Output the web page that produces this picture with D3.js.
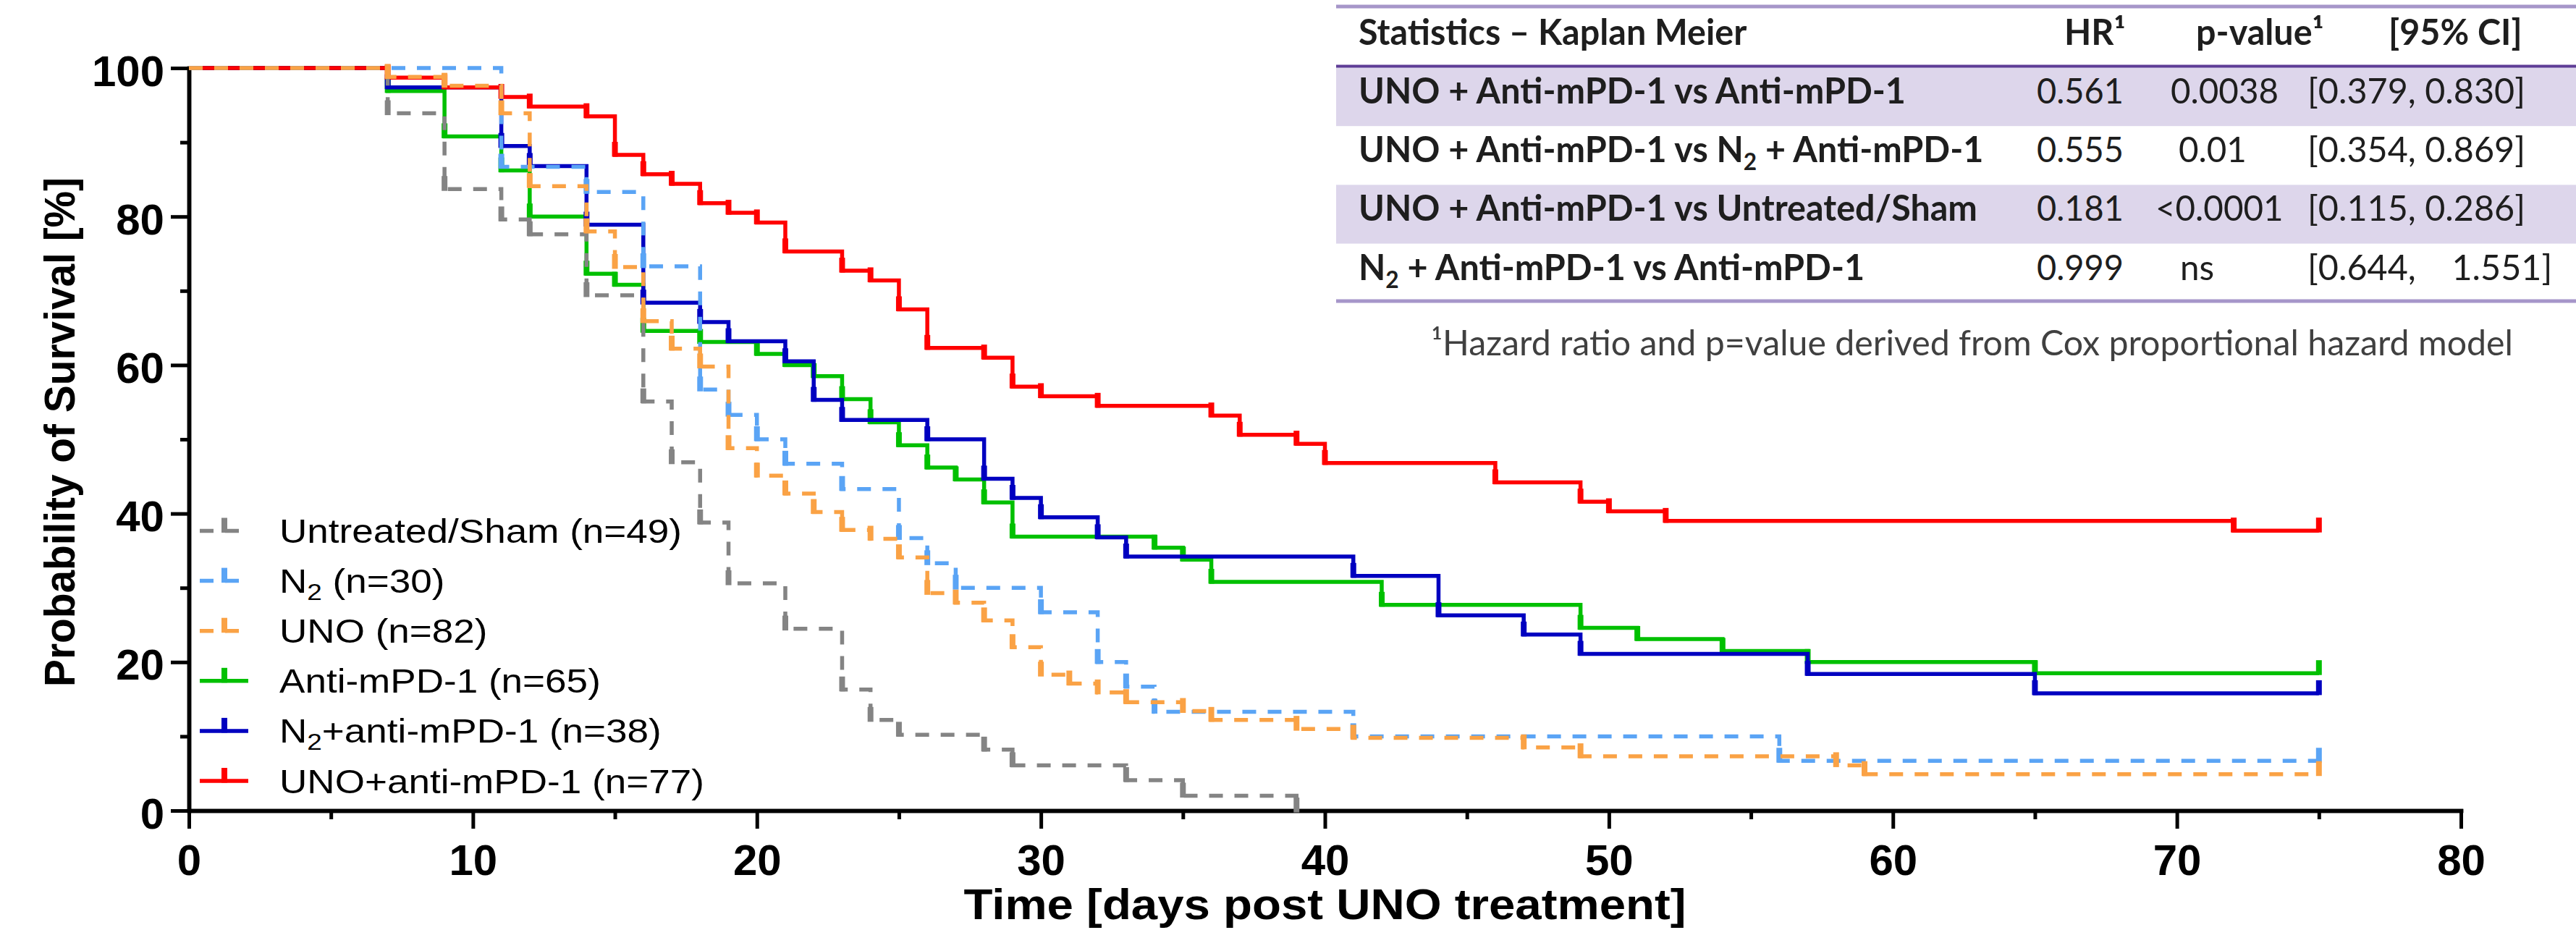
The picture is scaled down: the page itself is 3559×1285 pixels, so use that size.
<!DOCTYPE html>
<html>
<head>
<meta charset="utf-8">
<script src="https://cdn.jsdelivr.net/npm/d3@7"></script>
<style>
  html, body { margin: 0; padding: 0; background: #fff; }
  svg { display: block; }
</style>
</head>
<body>
<script>
// Kaplan-Meier steps: day of each step and survival [%] after it
const shamDays = [0, 7, 9, 11, 12, 14, 16, 17, 18, 19, 21, 23, 24, 25, 28, 29, 33, 35, 39];
const shamSurv = [100, 93.9, 83.7, 79.6, 77.6, 69.4, 55.1, 46.9, 38.8, 30.6, 24.5, 16.3, 12.2, 10.2, 8.2, 6.1, 4.1, 2.0, 0];

const n2Days = [0, 11, 14, 16, 18, 19, 20, 21, 23, 25, 26, 27, 30, 32, 33, 34, 41, 56, 75];
const n2Surv = [100, 86.7, 83.3, 73.3, 56.7, 53.3, 50.0, 46.7, 43.3, 36.7, 33.3, 30.0, 26.7, 20.0, 16.7, 13.3, 10.0, 6.7, 6.7];

const unoDays = [0, 7, 9, 11, 12, 14, 15, 16, 17, 18, 19, 20, 21, 22, 23, 24, 25, 26, 27, 28, 29, 30, 31, 32, 33, 35, 36, 39, 41, 47, 49, 58, 59, 75];
const unoSurv = [100, 98.8, 97.6, 93.9, 84.1, 78.0, 73.2, 65.9, 62.2, 59.8, 48.8, 45.1, 42.7, 40.2, 37.8, 36.6, 34.1, 29.3, 28.0, 25.6, 22.0, 18.3, 17.1, 15.9, 14.6, 13.4, 12.2, 11.0, 9.8, 8.5, 7.3, 6.1, 4.9, 4.9];

const antiDays = [0, 7, 9, 11, 12, 14, 15, 16, 18, 20, 21, 22, 23, 24, 25, 26, 27, 28, 29, 34, 35, 36, 42, 49, 51, 54, 57, 65, 75];
const antiSurv = [100, 96.9, 90.8, 86.2, 80.0, 72.3, 70.8, 64.6, 63.1, 61.5, 60.0, 58.5, 55.4, 52.3, 49.2, 46.2, 44.6, 41.5, 36.9, 35.4, 33.8, 30.8, 27.7, 24.6, 23.1, 21.5, 20.0, 18.5, 18.5];

const n2AntiDays = [0, 7, 11, 12, 14, 16, 18, 19, 21, 22, 23, 26, 28, 29, 30, 32, 33, 41, 44, 47, 49, 57, 65, 75];
const n2AntiSurv = [100, 97.4, 89.5, 86.8, 78.9, 68.4, 65.8, 63.2, 60.5, 55.3, 52.6, 50.0, 44.7, 42.1, 39.5, 36.8, 34.2, 31.6, 26.3, 23.7, 21.1, 18.4, 15.8, 15.8];

const unoAntiDays = [0, 7, 9, 11, 12, 14, 15, 16, 17, 18, 19, 20, 21, 23, 24, 25, 26, 28, 29, 30, 32, 36, 37, 39, 40, 46, 49, 50, 52, 72, 75];
const unoAntiSurv = [100, 98.7, 97.4, 96.1, 94.8, 93.5, 88.3, 85.7, 84.4, 81.8, 80.5, 79.2, 75.3, 72.7, 71.4, 67.5, 62.3, 61.0, 57.1, 55.8, 54.5, 53.2, 50.6, 49.4, 46.8, 44.2, 41.6, 40.3, 39.0, 37.7, 37.7];

const groupLabels = ["Untreated/Sham (n=49)", "N₂ (n=30)", "UNO (n=82)", "Anti-mPD-1 (n=65)", "N₂+anti-mPD-1 (n=38)", "UNO+anti-mPD-1 (n=77)"];

const xTicks = [0, 10, 20, 30, 40, 50, 60, 70, 80];
const xMinorTicks = [5, 15, 25, 35, 45, 55, 65, 75];
const yTicks = [0, 20, 40, 60, 80, 100];
const yMinorTicks = [10, 30, 50, 70, 90];

// statistics table
const tableHeaders = ["Statistics – Kaplan Meier", "HR¹", "p-value¹", "[95% CI]"];
const comparisons = ["UNO + Anti-mPD-1 vs Anti-mPD-1", "UNO + Anti-mPD-1 vs N₂ + Anti-mPD-1", "UNO + Anti-mPD-1 vs Untreated/Sham", "N₂ + Anti-mPD-1 vs Anti-mPD-1"];
const hazardRatios = ["0.561", "0.555", "0.181", "0.999"];
const pValues = ["0.0038", "0.01", "<0.0001", "ns"];
const confIntervals = ["[0.379, 0.830]", "[0.354, 0.869]", "[0.115, 0.286]", "[0.644,    1.551]"];
const footnote = "¹Hazard ratio and p=value derived from Cox proportional hazard model";

// styles, same order as groupLabels
const colors = ["#848484", "#5AA4F5", "#FAA245", "#00C000", "#0000C0", "#FF0000"];
const dashed = [true, true, true, false, false, false];
const drawOrder = [3, 4, 5, 0, 1, 2];

const width = 3559;
const height = 1285;
const graphFont = "'Liberation Sans', Arial, Helvetica, sans-serif";
const tableFont = "Lato, 'Open Sans', sans-serif";

const svg = d3.select("body")
  .append("svg")
  .attr("width", width)
  .attr("height", height)
  .style("background", "#fff");

const x = d3.scaleLinear().domain([0, 80]).range([261, 3400]);
const y = d3.scaleLinear().domain([0, 100]).range([1120, 94]);

// write a label, drawing "₂" as a real subscript
function richText(sel, str, subSize, shift) {
  const parts = str.split("₂");
  parts.forEach((p, i) => {
    if (i > 0) {
      sel.append("tspan").attr("font-size", subSize).attr("dy", shift).text("2");
    }
    if (p.length) {
      sel.append("tspan").attr("dy", i > 0 ? -shift : null).text(p);
    }
  });
}

// stretch text horizontally by factor k
function stretch(sel, k) {
  sel.each(function () {
    const w = this.getComputedTextLength();
    d3.select(this).attr("textLength", w * k).attr("lengthAdjust", "spacingAndGlyphs");
  });
}

// ---------- axes ----------
function styleAxis(g) {
  g.select(".domain").attr("stroke-width", 5.5).attr("stroke-linecap", "square");
  g.selectAll(".tick line").attr("stroke-width", 5);
  g.selectAll(".tick text")
    .attr("font-family", graphFont)
    .attr("font-weight", "bold")
    .attr("font-size", 60)
    .attr("fill", "#000");
}

svg.append("g")
  .attr("transform", `translate(0,${y(0)})`)
  .call(d3.axisBottom(x).tickValues(xMinorTicks).tickSize(12).tickSizeOuter(0).tickFormat(""))
  .call(styleAxis);

svg.append("g")
  .attr("transform", `translate(${x(0)},0)`)
  .call(d3.axisLeft(y).tickValues(yMinorTicks).tickSize(12).tickSizeOuter(0).tickFormat(""))
  .call(styleAxis);

const xAxis = svg.append("g")
  .attr("transform", `translate(0,${y(0)})`)
  .call(d3.axisBottom(x).tickValues(xTicks).tickSize(25).tickSizeOuter(0))
  .call(styleAxis);
xAxis.selectAll(".tick text").attr("y", 89).attr("dy", 0);

const yAxis = svg.append("g")
  .attr("transform", `translate(${x(0)},0)`)
  .call(d3.axisLeft(y).tickValues(yTicks).tickSize(25).tickSizeOuter(0))
  .call(styleAxis);
yAxis.selectAll(".tick text").attr("x", -34).attr("dy", "0.4em");

svg.append("text")
  .attr("x", (x(0) + x(80)) / 2)
  .attr("y", 1270)
  .attr("text-anchor", "middle")
  .attr("font-family", graphFont)
  .attr("font-weight", "bold")
  .attr("font-size", 59)
  .attr("textLength", 998)
  .attr("lengthAdjust", "spacingAndGlyphs")
  .text("Time [days post UNO treatment]");

svg.append("text")
  .attr("transform", `translate(103,${(y(0) + y(100)) / 2 - 10}) rotate(-90)`)
  .attr("text-anchor", "middle")
  .attr("font-family", graphFont)
  .attr("font-weight", "bold")
  .attr("font-size", 60)
  .attr("textLength", 704)
  .attr("lengthAdjust", "spacingAndGlyphs")
  .text("Probability of Survival [%]");

// ---------- survival curves ----------
const groups = [
  { days: shamDays, surv: shamSurv },
  { days: n2Days, surv: n2Surv },
  { days: unoDays, surv: unoSurv },
  { days: antiDays, surv: antiSurv },
  { days: n2AntiDays, surv: n2AntiSurv },
  { days: unoAntiDays, surv: unoAntiSurv }
];

const stepLine = d3.line()
  .x(d => x(d[0]))
  .y(d => y(d[1]))
  .curve(d3.curveStepAfter);

const curves = svg.append("g");
drawOrder.forEach(i => {
  const g = groups[i];
  const pts = g.days.map((d, j) => [d, g.surv[j]]);
  const cg = curves.append("g");
  cg.append("path")
    .attr("d", stepLine(pts))
    .attr("fill", "none")
    .attr("stroke", colors[i])
    .attr("stroke-width", 5.5)
    .attr("stroke-dasharray", dashed[i] ? "19 16" : null);
  // tick marks at every step and at the end of follow-up
  cg.selectAll("line")
    .data(pts.slice(1))
    .enter()
    .append("line")
    .attr("x1", d => x(d[0]))
    .attr("x2", d => x(d[0]))
    .attr("y1", d => y(d[1]) + 2.5)
    .attr("y2", d => y(d[1]) - 18)
    .attr("stroke", colors[i])
    .attr("stroke-width", 8);
});

// ---------- legend ----------
const legend = svg.append("g");
const legendLabels = [];
groupLabels.forEach((label, i) => {
  const base = 750 + i * 69.1;
  const ly = base - 16.5;
  legend.append("line")
    .attr("x1", 276).attr("x2", 343)
    .attr("y1", ly).attr("y2", ly)
    .attr("stroke", colors[i])
    .attr("stroke-width", 5.5)
    .attr("stroke-dasharray", dashed[i] ? "19 16" : null);
  legend.append("line")
    .attr("x1", 310).attr("x2", 310)
    .attr("y1", ly + 2.5).attr("y2", ly - 18)
    .attr("stroke", colors[i])
    .attr("stroke-width", 8);
  const t = legend.append("text")
    .attr("x", 386)
    .attr("y", base)
    .attr("font-family", graphFont)
    .attr("font-size", 46)
    .attr("fill", "#000");
  richText(t, label, 32, 10);
  legendLabels.push(t.node());
});
const legendK = 556 / legendLabels[0].getComputedTextLength();
stretch(d3.selectAll(legendLabels), legendK);

// ---------- statistics table ----------
const tableLeft = 1846;
const tableRight = width;
const rowTop = i => 93 + i * 81.2;
const labelX = 1877;
const hrX = 2814;
const pX = [2999, 3010, 2978, 3012];
const ciX = 3188;
const headX = [1877, 2852, 3034, 3300];

const table = svg.append("g");
[0, 2].forEach(i => {
  table.append("rect")
    .attr("x", tableLeft).attr("y", rowTop(i))
    .attr("width", tableRight - tableLeft).attr("height", 81.2)
    .attr("fill", "#DDD6EB");
});
table.append("line")
  .attr("x1", tableLeft).attr("x2", tableRight).attr("y1", 9).attr("y2", 9)
  .attr("stroke", "#A696C9").attr("stroke-width", 5);
table.append("line")
  .attr("x1", tableLeft).attr("x2", tableRight).attr("y1", 91.5).attr("y2", 91.5)
  .attr("stroke", "#5E3D96").attr("stroke-width", 4);
table.append("line")
  .attr("x1", tableLeft).attr("x2", tableRight).attr("y1", 416).attr("y2", 416)
  .attr("stroke", "#A696C9").attr("stroke-width", 5);

function cell(str, cx, cy, bold) {
  const t = table.append("text")
    .attr("x", cx).attr("y", cy)
    .attr("font-family", tableFont)
    .attr("font-weight", bold ? "bold" : "normal")
    .attr("font-size", 49)
    .attr("fill", "#1E1E1E")
    .style("white-space", "pre");
  richText(t, str, 32, 11);
  return t.node();
}

const boldTexts = tableHeaders.map((h, j) => cell(h, headX[j], 61.5, true));
const hrTexts = [];
const pTexts = [];
const ciTexts = [];
comparisons.forEach((c, i) => {
  const by = rowTop(i) + 50;
  boldTexts.push(cell(c, labelX, by, true));
  hrTexts.push(cell(hazardRatios[i], hrX, by, false));
  pTexts.push(cell(pValues[i], pX[i], by, false));
  ciTexts.push(cell(confIntervals[i], ciX, by, false));
});

// match the condensed look of the original table font, column by column
stretch(d3.selectAll(boldTexts), 756 / boldTexts[4].getComputedTextLength());
stretch(d3.selectAll(hrTexts), 120 / hrTexts[0].getComputedTextLength());
stretch(d3.selectAll(pTexts), 149 / pTexts[0].getComputedTextLength());
stretch(d3.selectAll(ciTexts), 301 / ciTexts[0].getComputedTextLength());

const foot = svg.append("text")
  .attr("x", 1977)
  .attr("y", 491)
  .attr("font-family", tableFont)
  .attr("font-size", 49)
  .attr("fill", "#404040")
  .text(footnote);
stretch(foot, 1495 / foot.node().getComputedTextLength());
</script>
</body>
</html>
